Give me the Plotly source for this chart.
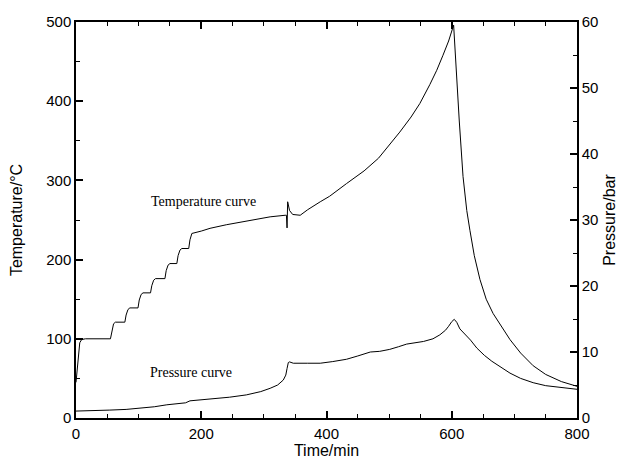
import plotly.graph_objects as go

# Temperature curve (time in min, temperature in °C)
temp_time = [0, 3, 6, 9, 15, 55,
             57, 60, 63, 78,
             80, 83, 86, 99,
             101, 104, 107, 119,
             121, 124, 127, 142,
             144, 147, 150, 161,
             163, 166, 169, 180,
             182, 185, 200, 214, 240, 267, 290, 310, 334,
             336, 337, 338, 341, 346, 358, 370, 390, 405, 432, 460, 483, 500,
             517, 535, 549, 565, 576, 586, 595, 603,
             607, 612, 618, 624, 629, 636, 645, 655, 666, 680, 693, 710, 730,
             750, 775, 800]
temp_vals = [45, 75, 95, 99, 100, 100,
             110, 119, 121, 121,
             130, 137, 139, 139,
             149, 156, 158, 158,
             167, 174, 176, 176,
             186, 193, 195, 195,
             205, 212, 214, 214,
             225, 233, 236, 239.5, 244, 248, 251.5, 254, 256,
             256, 240, 273, 262, 257, 256, 263, 273, 280, 296, 312, 328, 344,
             361, 380, 397, 421, 439, 458, 476, 496,
             440, 375, 305, 262, 237, 205, 175, 150, 132, 114, 99, 82, 66,
             55, 46, 40]

# Pressure curve (time in min, pressure in bar)
pres_time = [0, 30, 54, 80, 102, 125, 145, 165, 175, 182, 200, 219, 245, 272,
             295, 310, 322, 331, 335, 337, 339, 341, 347, 370, 390, 410, 432,
             450, 459, 470, 485, 501, 515, 528, 555, 570, 581, 590, 595, 600,
             604, 608, 613, 617, 621, 630, 640, 652, 664, 678, 693, 710, 730,
             750, 775, 800]
pres_vals = [1.05, 1.1, 1.2, 1.3, 1.45, 1.7, 2.0, 2.2, 2.3, 2.6, 2.75, 2.9, 3.15, 3.5,
             4.0, 4.5, 5.0, 5.75, 6.5, 7.5, 8.4, 8.5, 8.3, 8.3, 8.3, 8.55, 8.9,
             9.4, 9.65, 10.0, 10.1, 10.4, 10.8, 11.2, 11.6, 12.0, 12.6, 13.3, 13.9, 14.6,
             14.95, 14.5, 13.5, 13.1, 12.8, 11.8, 10.6, 9.5, 8.6, 7.7, 6.8, 6.0, 5.35,
             4.9, 4.6, 4.35]

x_ticks = [0, 200, 400, 600, 800]
t_ticks = [0, 100, 200, 300, 400, 500]
p_ticks = [0, 10, 20, 30, 40, 50, 60]

fig = go.Figure()
fig.add_trace(go.Scatter(x=temp_time, y=temp_vals, mode="lines",
                         line=dict(color="black", width=1), showlegend=False))
fig.add_trace(go.Scatter(x=pres_time, y=pres_vals, mode="lines", yaxis="y2",
                         line=dict(color="black", width=1), showlegend=False))

axis_font = dict(family="Liberation Sans, Arial, sans-serif", size=15, color="black")

fig.update_layout(
    width=625, height=463,
    margin=dict(l=76, r=48, t=22, b=45),
    paper_bgcolor="white", plot_bgcolor="white",
    font=axis_font,
    xaxis=dict(range=[0, 800], tickvals=x_ticks, ticks="inside", ticklen=7,
               tickwidth=1.5, tickcolor="black", showline=True, linecolor="black",
               linewidth=1.5, mirror="ticks", showgrid=False, zeroline=False,
               automargin=False, ticklabelstandoff=1,
               minor=dict(dtick=50, ticks="inside", ticklen=4, tickcolor="black", tickwidth=1.2),
               title=dict(text="Time/min", font=dict(size=16), standoff=0),
               tickfont=axis_font),
    yaxis=dict(range=[0, 500], tickvals=t_ticks, ticks="inside", ticklen=7,
               tickwidth=1.5, tickcolor="black", showline=True, linecolor="black",
               linewidth=1.5, showgrid=False, zeroline=False, automargin=False,
               minor=dict(dtick=50, ticks="inside", ticklen=4, tickcolor="black", tickwidth=1.2),
               title=dict(text="Temperature/°C", font=dict(size=16), standoff=20),
               tickfont=axis_font),
    yaxis2=dict(range=[0, 60], tickvals=p_ticks, ticks="inside", ticklen=7,
                tickwidth=1.5, tickcolor="black", showline=True, linecolor="black",
                linewidth=1.5, showgrid=False, zeroline=False, overlaying="y",
                side="right", automargin=False,
                minor=dict(dtick=5, ticks="inside", ticklen=4, tickcolor="black", tickwidth=1.2),
                title=dict(text="Pressure/bar", font=dict(size=16), standoff=6),
                tickfont=axis_font),
    annotations=[
        dict(x=203, y=273, xref="x", yref="y", text="Temperature curve",
             showarrow=False, font=dict(family="Liberation Serif, Times New Roman, serif",
                                        size=14, color="black")),
        dict(x=184, y=58, xref="x", yref="y", text="Pressure curve",
             showarrow=False, font=dict(family="Liberation Serif, Times New Roman, serif",
                                        size=14, color="black")),
    ],
)

fig.write_html("out.html")
